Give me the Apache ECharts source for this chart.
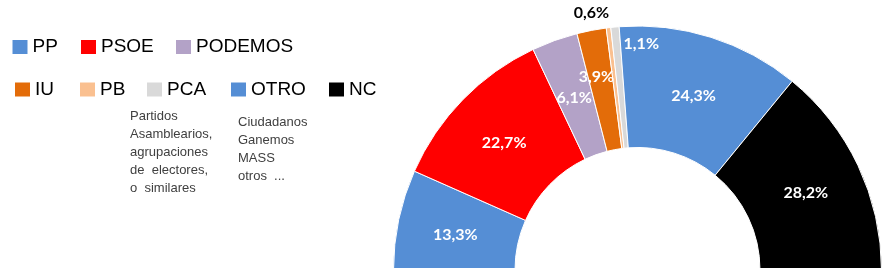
<!DOCTYPE html>
<html>
<head>
<meta charset="utf-8">
<script src="https://cdn.jsdelivr.net/npm/echarts@6/dist/echarts.min.js"></script>
<style>
html,body{margin:0;padding:0;background:#fff;}
#c{width:887px;height:271px;}
</style>
</head>
<body>
<div id="c"></div>
<script>
// ---- data ----
const categories = ['PP', 'PSOE', 'PODEMOS', 'IU', 'PB', 'PCA', 'OTRO', 'NC'];
const values = [13.3, 22.7, 6.1, 3.9, 0.6, 1.1, 24.3, 28.2];
const legendRow1 = ['PP', 'PSOE', 'PODEMOS'];
const legendRow2 = ['IU', 'PB', 'PCA', 'OTRO', 'NC'];
const noteParties = 'Partidos\nAsamblearios,\nagrupaciones\nde  electores,\no  similares';
const noteOthers = 'Ciudadanos\nGanemos\nMASS\notros  ...';

// ---- styles / layout ----
const colors = ['#558ED5', '#FF0000', '#B3A2C7', '#E36C09', '#FAC090', '#D9D9D9', '#558ED5', '#000000'];
const legendLeft = { PP: 12.5, PSOE: 81, PODEMOS: 176, IU: 15, PB: 80, PCA: 147, OTRO: 231, NC: 329 };
const labelNudge = { IU: [-6, -13], PB: [-24, -75], PCA: [21, -43.5] };
const labelBaseShift = 3;
const labelColor = { PB: '#000000' };

const chart = echarts.init(document.getElementById('c'));
const fmt = v => v.toFixed(1).replace('.', ',') + '%';

const legendText = { fontFamily: 'Liberation Sans', fontSize: 19, color: '#000' };
const mkLegend = (name, top) => ({
  data: [name], left: legendLeft[name], top: top,
  itemWidth: 15, itemHeight: 14, icon: 'rect', padding: 0,
  itemStyle: { borderWidth: 0 },
  textStyle: legendText, selectedMode: false
});

const option = {
  animation: false,
  legend: legendRow1.map(n => mkLegend(n, 37.5)).concat(legendRow2.map(n => mkLegend(n, 80))),
  graphic: [
    { type: 'text', left: 130, top: 107,
      style: { text: noteParties, font: '13px "Liberation Sans"', lineHeight: 18, fill: '#404040' } },
    { type: 'text', left: 238, top: 113,
      style: { text: noteOthers, font: '13px "Liberation Sans"', lineHeight: 18, fill: '#404040' } },
    { type: 'rect', left: 380, top: 268, z: 100,
      shape: { width: 507, height: 3 }, style: { fill: '#fff' } }
  ],
  series: [{
    type: 'pie',
    center: [637.5, 270],
    radius: [122.5, 244],
    startAngle: 180,
    endAngle: 0,
    clockwise: true,
    avoidLabelOverlap: false,
    itemStyle: { borderColor: '#fff', borderWidth: 1 },
    label: {
      show: true, position: 'inside',
      fontFamily: 'Lato', fontWeight: 'bold', fontSize: 16, color: '#fff',
      formatter: p => fmt(p.value)
    },
    labelLine: { show: false },
    labelLayout: p => {
      const n = labelNudge[categories[p.dataIndex]] || [0, 0];
      return { dx: n[0], dy: n[1] + labelBaseShift };
    },
    emphasis: { disabled: true },
    data: categories.map((c, i) => ({
      name: c, value: values[i],
      itemStyle: { color: colors[i] },
      label: labelColor[c] ? { color: labelColor[c] } : undefined
    }))
  }]
};
chart.setOption(option);
</script>
</body>
</html>
